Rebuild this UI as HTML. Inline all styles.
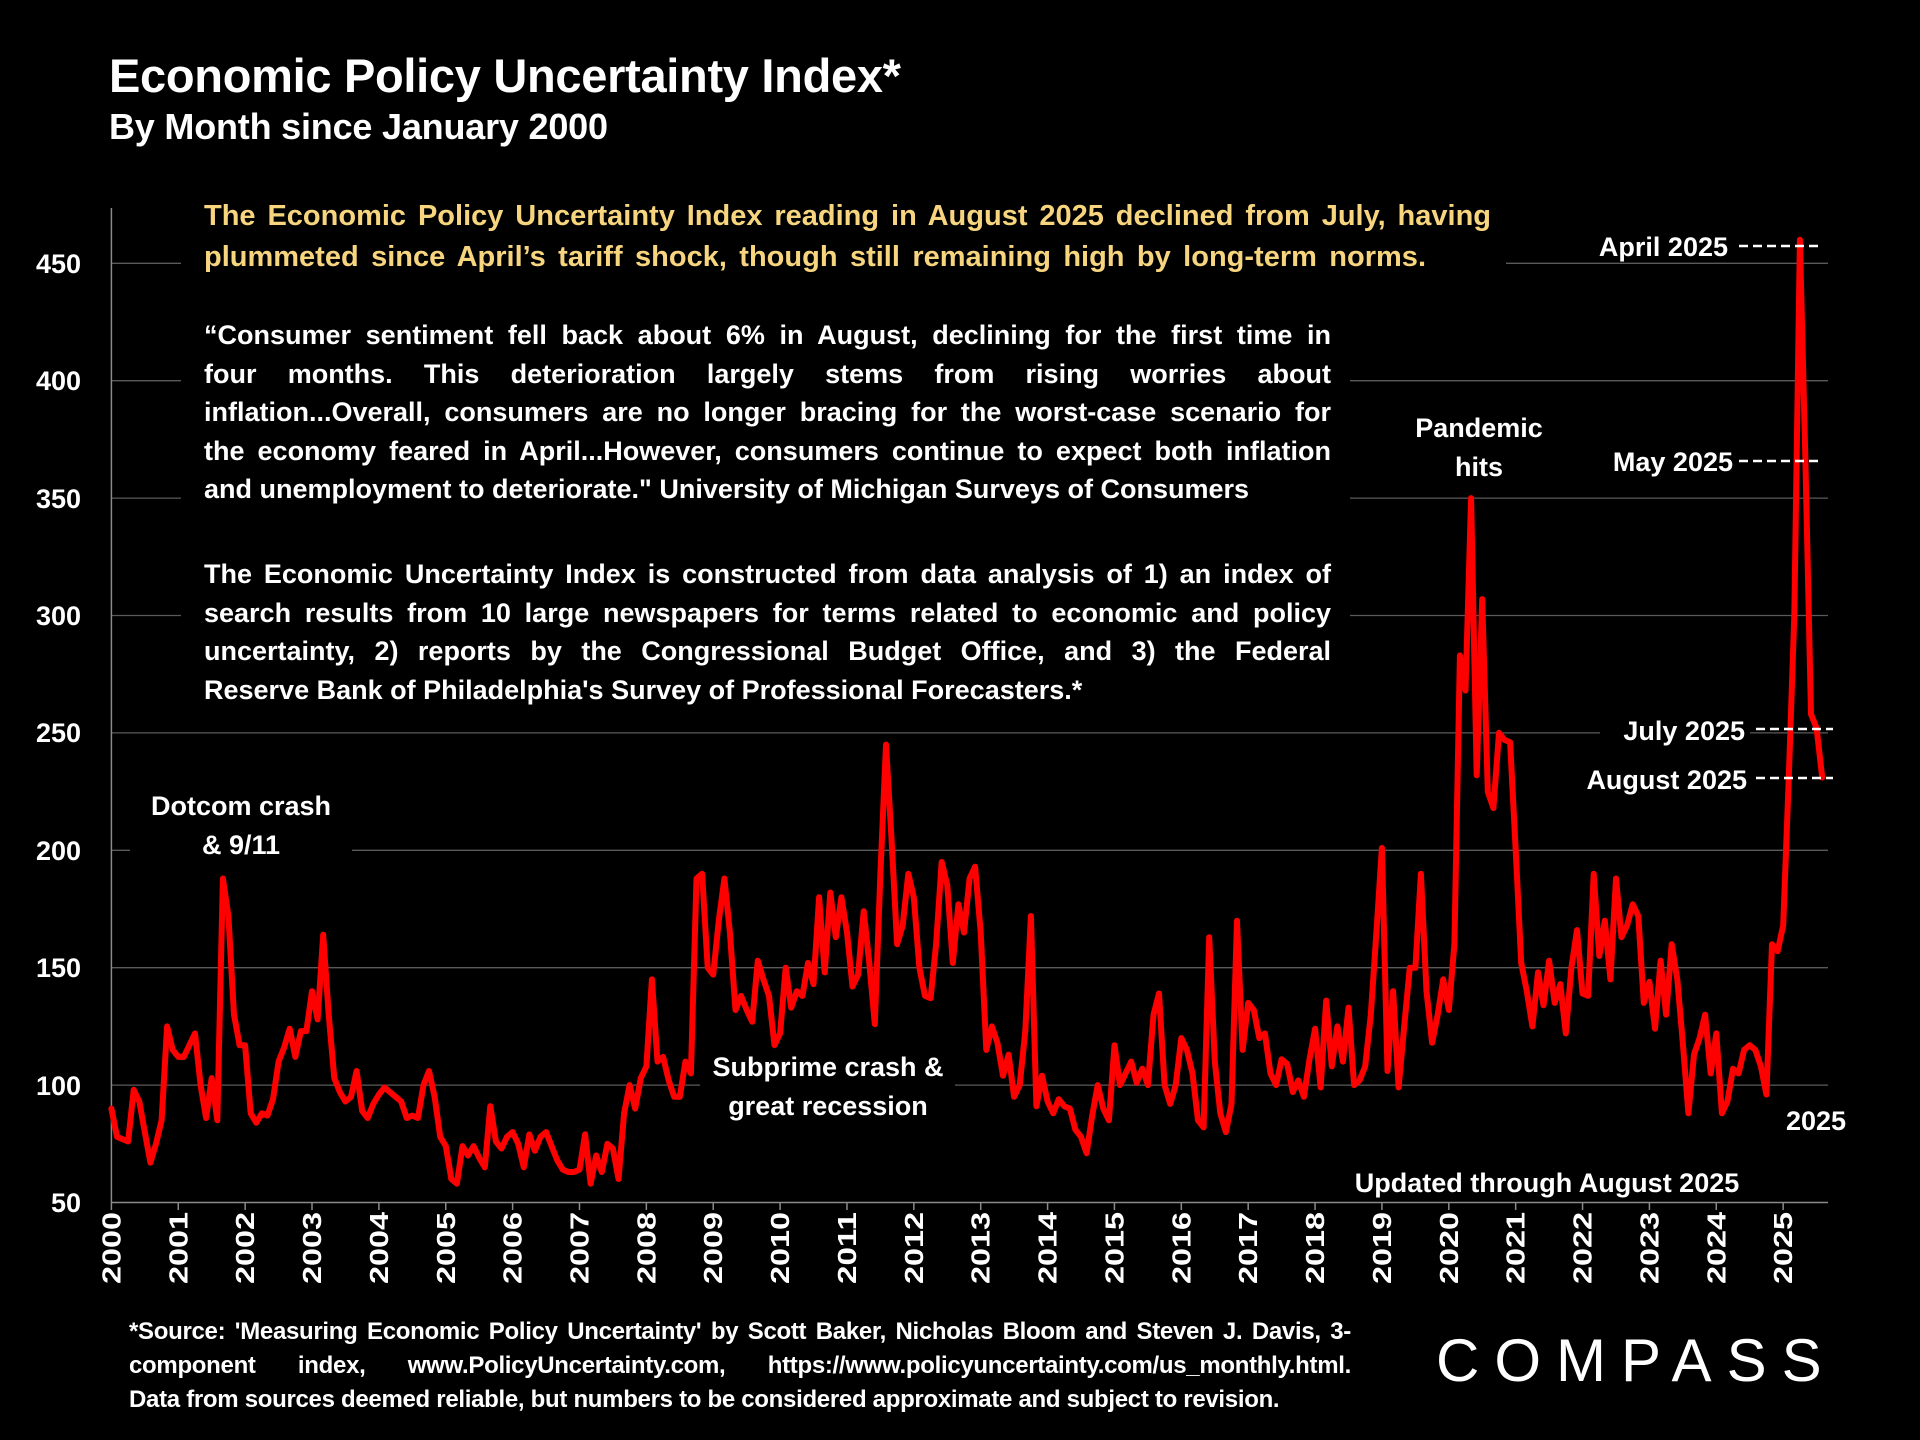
<!DOCTYPE html>
<html><head><meta charset="utf-8">
<style>
html,body{margin:0;padding:0;background:#000;}
body{width:1920px;height:1440px;position:relative;overflow:hidden;font-family:"Liberation Sans",sans-serif;color:#fff;}
.abs{position:absolute;}
.t1{left:109px;top:48px;font-size:47px;font-weight:bold;letter-spacing:-0.3px;}
.t2{left:109px;top:106px;font-size:36px;font-weight:bold;letter-spacing:-0.2px;}
.yel{left:204px;top:196px;font-size:29px;font-weight:bold;color:#f7d57f;line-height:41px;}
.para{left:204px;font-size:27px;font-weight:bold;line-height:38.6px;}
.ln{text-align:justify;text-align-last:justify;white-space:nowrap;}
.lst{text-align:left;white-space:nowrap;}
.foot{left:129px;top:1315px;font-size:24px;font-weight:bold;line-height:34px;letter-spacing:-0.3px;}
.logo{left:1436px;top:1326px;font-size:60px;letter-spacing:15px;font-weight:normal;}
</style></head><body>
<svg class="abs" style="left:0;top:0" width="1920" height="1440" xmlns="http://www.w3.org/2000/svg">
<g stroke="#5a5a5a" stroke-width="1.3">
<line x1="111" x2="1828" y1="263.3" y2="263.3"/>
<line x1="111" x2="1828" y1="380.7" y2="380.7"/>
<line x1="111" x2="1828" y1="498.1" y2="498.1"/>
<line x1="111" x2="1828" y1="615.5" y2="615.5"/>
<line x1="111" x2="1828" y1="732.9" y2="732.9"/>
<line x1="111" x2="1828" y1="850.3" y2="850.3"/>
<line x1="111" x2="1828" y1="967.7" y2="967.7"/>
<line x1="111" x2="1828" y1="1085.1" y2="1085.1"/>
</g>
<g fill="#000">
<rect x="181" y="190" width="1325" height="95"/>
<rect x="181" y="285" width="1169" height="430"/>
<rect x="130" y="780" width="222" height="90"/>
<rect x="700" y="1055" width="255" height="65"/>
<rect x="1600" y="715" width="150" height="35"/>
</g>
<line x1="111.4" y1="208" x2="111.4" y2="1202.5" stroke="#8a8a8a" stroke-width="1.5"/>
<line x1="111.4" y1="1202.5" x2="1828" y2="1202.5" stroke="#8a8a8a" stroke-width="1.5"/>
<g stroke="#8a8a8a" stroke-width="1.5" id="ticks"></g>
<g font-family="Liberation Sans" font-weight="bold" font-size="27" fill="#fff" text-anchor="end">
<text x="81" y="273">450</text><text x="81" y="390">400</text><text x="81" y="508">350</text>
<text x="81" y="625">300</text><text x="81" y="742">250</text><text x="81" y="860">200</text>
<text x="81" y="977">150</text><text x="81" y="1095">100</text><text x="81" y="1212">50</text>
</g>
<g font-family="Liberation Sans" font-weight="bold" font-size="26" fill="#fff" text-anchor="end">
<text transform="translate(120.4,1212) rotate(-90)" textLength="72" lengthAdjust="spacingAndGlyphs">2000</text>
<text transform="translate(187.3,1212) rotate(-90)" textLength="72" lengthAdjust="spacingAndGlyphs">2001</text>
<text transform="translate(254.1,1212) rotate(-90)" textLength="72" lengthAdjust="spacingAndGlyphs">2002</text>
<text transform="translate(321,1212) rotate(-90)" textLength="72" lengthAdjust="spacingAndGlyphs">2003</text>
<text transform="translate(387.9,1212) rotate(-90)" textLength="72" lengthAdjust="spacingAndGlyphs">2004</text>
<text transform="translate(454.8,1212) rotate(-90)" textLength="72" lengthAdjust="spacingAndGlyphs">2005</text>
<text transform="translate(521.6,1212) rotate(-90)" textLength="72" lengthAdjust="spacingAndGlyphs">2006</text>
<text transform="translate(588.5,1212) rotate(-90)" textLength="72" lengthAdjust="spacingAndGlyphs">2007</text>
<text transform="translate(655.4,1212) rotate(-90)" textLength="72" lengthAdjust="spacingAndGlyphs">2008</text>
<text transform="translate(722.2,1212) rotate(-90)" textLength="72" lengthAdjust="spacingAndGlyphs">2009</text>
<text transform="translate(789.1,1212) rotate(-90)" textLength="72" lengthAdjust="spacingAndGlyphs">2010</text>
<text transform="translate(856,1212) rotate(-90)" textLength="72" lengthAdjust="spacingAndGlyphs">2011</text>
<text transform="translate(922.8,1212) rotate(-90)" textLength="72" lengthAdjust="spacingAndGlyphs">2012</text>
<text transform="translate(989.7,1212) rotate(-90)" textLength="72" lengthAdjust="spacingAndGlyphs">2013</text>
<text transform="translate(1056.6,1212) rotate(-90)" textLength="72" lengthAdjust="spacingAndGlyphs">2014</text>
<text transform="translate(1123.5,1212) rotate(-90)" textLength="72" lengthAdjust="spacingAndGlyphs">2015</text>
<text transform="translate(1190.3,1212) rotate(-90)" textLength="72" lengthAdjust="spacingAndGlyphs">2016</text>
<text transform="translate(1257.2,1212) rotate(-90)" textLength="72" lengthAdjust="spacingAndGlyphs">2017</text>
<text transform="translate(1324.1,1212) rotate(-90)" textLength="72" lengthAdjust="spacingAndGlyphs">2018</text>
<text transform="translate(1390.9,1212) rotate(-90)" textLength="72" lengthAdjust="spacingAndGlyphs">2019</text>
<text transform="translate(1457.8,1212) rotate(-90)" textLength="72" lengthAdjust="spacingAndGlyphs">2020</text>
<text transform="translate(1524.7,1212) rotate(-90)" textLength="72" lengthAdjust="spacingAndGlyphs">2021</text>
<text transform="translate(1591.5,1212) rotate(-90)" textLength="72" lengthAdjust="spacingAndGlyphs">2022</text>
<text transform="translate(1658.4,1212) rotate(-90)" textLength="72" lengthAdjust="spacingAndGlyphs">2023</text>
<text transform="translate(1725.3,1212) rotate(-90)" textLength="72" lengthAdjust="spacingAndGlyphs">2024</text>
<text transform="translate(1792.2,1212) rotate(-90)" textLength="72" lengthAdjust="spacingAndGlyphs">2025</text>
</g>
<path id="series" d="" fill="none" stroke="#ff0000" stroke-width="6" stroke-linejoin="round" stroke-linecap="round"/>
<g stroke="#fff" stroke-width="2.5" stroke-dasharray="9,5">
<line x1="1739" y1="246" x2="1818" y2="246"/>
<line x1="1739" y1="461" x2="1818" y2="461"/>
<line x1="1756" y1="729" x2="1833" y2="729"/>
<line x1="1756" y1="778" x2="1833" y2="778"/>
</g>
<g font-family="Liberation Sans" font-weight="bold" font-size="27" fill="#fff">
<text x="1728" y="256" text-anchor="end">April 2025</text>
<text x="1733" y="471" text-anchor="end">May 2025</text>
<text x="1745" y="740" text-anchor="end">July 2025</text>
<text x="1747" y="789" text-anchor="end">August 2025</text>
<text x="241" y="815" text-anchor="middle">Dotcom crash</text>
<text x="241" y="854" text-anchor="middle">&amp; 9/11</text>
<text x="1479" y="437" text-anchor="middle">Pandemic</text>
<text x="1479" y="476" text-anchor="middle">hits</text>
<text x="828" y="1076" text-anchor="middle">Subprime crash &amp;</text>
<text x="828" y="1115" text-anchor="middle">great recession</text>
<text x="1816" y="1130" text-anchor="middle">2025</text>
<text x="1547" y="1192" text-anchor="middle">Updated through August 2025</text>
</g>
</svg>
<div class="abs t1">Economic Policy Uncertainty Index*</div>
<div class="abs t2">By Month since January 2000</div>
<div class="abs yel">
<div class="ln" style="width:1287px">The Economic Policy Uncertainty Index reading in August 2025 declined from July, having</div>
<div class="ln" style="width:1222px">plummeted since April’s tariff shock, though still remaining high by long-term norms.</div>
</div>
<div class="abs para" style="top:316px">
<div class="ln" style="width:1127px">“Consumer sentiment fell back about 6% in August, declining for the first time in</div>
<div class="ln" style="width:1127px">four months. This deterioration largely stems from rising worries about</div>
<div class="ln" style="width:1127px">inflation...Overall, consumers are no longer bracing for the worst-case scenario for</div>
<div class="ln" style="width:1127px">the economy feared in April...However, consumers continue to expect both inflation</div>
<div class="lst">and unemployment to deteriorate." University of Michigan Surveys of Consumers</div>
</div>
<div class="abs para" style="top:555px">
<div class="ln" style="width:1127px">The Economic Uncertainty Index is constructed from data analysis of 1) an index of</div>
<div class="ln" style="width:1127px">search results from 10 large newspapers for terms related to economic and policy</div>
<div class="ln" style="width:1127px">uncertainty, 2) reports by the Congressional Budget Office, and 3) the Federal</div>
<div class="lst">Reserve Bank of Philadelphia's Survey of Professional Forecasters.*</div>
</div>
<div class="abs foot">
<div class="ln" style="width:1222px">*Source: 'Measuring Economic Policy Uncertainty' by Scott Baker, Nicholas Bloom and Steven J. Davis, 3-</div>
<div class="ln" style="width:1222px">component index, www.PolicyUncertainty.com, https://www.policyuncertainty.com/us_monthly.html.</div>
<div class="lst">Data from sources deemed reliable, but numbers to be considered approximate and subject to revision.</div>
</div>
<div class="abs logo">COMPASS</div>
<script>
var d=[90,78,77,76,98,93,80,67,75,85,125,115,
112,112,117,122,100,86,103,85,188,172,130,117,
117,88,84,88,87,94,110,116,124,112,123,123,
140,128,164,130,103,97,93,95,106,89,86,92,
96,99,97,95,93,86,87,86,100,106,95,78,
74,60,58,74,70,74,69,65,91,76,73,78,
80,75,65,79,72,78,80,74,68,64,63,63,
64,79,58,70,63,75,73,60,88,100,90,103,
108,145,110,112,102,95,95,110,105,188,190,150,
147,170,188,165,132,138,132,127,153,145,138,117,
122,150,133,140,138,152,143,180,148,182,163,180,
165,142,147,174,152,126,190,245,205,160,168,190,
180,150,138,137,160,195,185,152,177,165,188,193,
165,115,125,118,104,113,95,100,123,172,91,104,
93,88,94,91,90,81,78,71,87,100,90,85,
117,100,105,110,101,107,100,130,139,100,92,100,
120,115,105,85,82,163,110,88,80,92,170,115,
135,132,120,122,105,100,111,109,97,102,95,111,
124,99,136,108,125,110,133,100,102,108,130,165,
201,106,140,99,125,150,150,190,140,118,130,145,
132,160,283,268,350,232,307,225,218,250,247,246,
200,152,140,125,148,134,153,135,143,122,150,166,
139,138,190,155,170,145,188,163,168,177,172,135,
144,124,153,130,160,145,118,88,113,120,130,105,
122,88,93,107,105,115,117,115,108,96,160,157,
168,230,300,460,366,258,252,231];
var s="";
for(var i=0;i<d.length;i++){var x=111.4+i/12*66.87;var y=1202.5-(d[i]-50)*2.348;s+=(i?"L":"M")+x.toFixed(1)+","+y.toFixed(1);}
document.getElementById("series").setAttribute("d",s);
var t="";for(var k=0;k<26;k++){var x=111.4+k*66.87;t+='<line x1="'+x+'" x2="'+x+'" y1="1202" y2="1210"/>';}
document.getElementById("ticks").innerHTML=t;
</script>
</body></html>
